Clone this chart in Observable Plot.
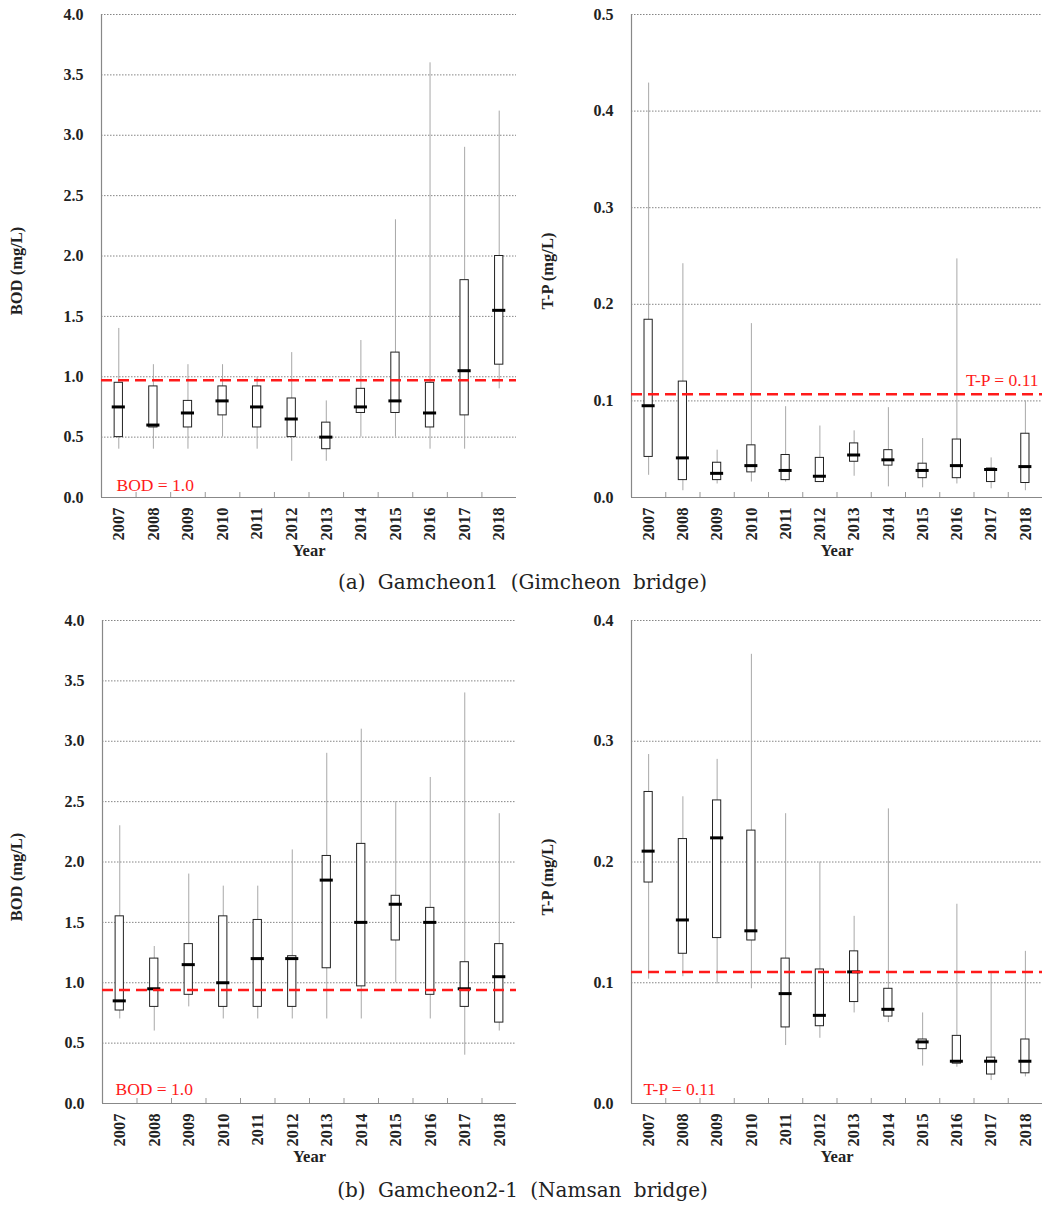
<!DOCTYPE html>
<html><head><meta charset="utf-8">
<script src="https://cdn.jsdelivr.net/npm/d3@7"></script>
<script src="https://cdn.jsdelivr.net/npm/@observablehq/plot@0.6"></script>
<style>
body{margin:0;background:#fff;}
#wrap{position:relative;width:1045px;height:1205px;overflow:hidden;background:#fff;}
.panel{position:absolute;}
.panel svg{font-family:"Liberation Serif","Times New Roman",serif !important;}
.cap{position:absolute;left:0;width:1045px;text-align:center;font-family:"DejaVu Serif";font-size:20px;line-height:24px;color:#222;word-spacing:6px;}
</style></head><body>
<div id="wrap">
<div class="panel" id="p1" style="left:0;top:0;width:520px"></div>
<div class="panel" id="p2" style="left:520px;top:0;width:525px"></div>
<div class="panel" id="p3" style="left:0;top:600px;width:520px"></div>
<div class="panel" id="p4" style="left:520px;top:600px;width:525px"></div>
<div class="cap" style="top:570px">(a) Gamcheon1 (Gimcheon bridge)</div>
<div class="cap" style="top:1178px">(b) Gamcheon2-1 (Namsan bridge)</div>
</div>
<script>
const years = [2007,2008,2009,2010,2011,2012,2013,2014,2015,2016,2017,2018];

// (a) Gamcheon1 - BOD
const bodA_min = [0.40,0.40,0.40,0.50,0.40,0.30,0.30,0.50,0.50,0.40,0.40,0.90];
const bodA_q1  = [0.50,0.58,0.58,0.68,0.58,0.50,0.40,0.70,0.70,0.58,0.68,1.10];
const bodA_med = [0.75,0.60,0.70,0.80,0.75,0.65,0.50,0.75,0.80,0.70,1.05,1.55];
const bodA_q3  = [0.95,0.92,0.80,0.92,0.92,0.82,0.62,0.90,1.20,0.95,1.80,2.00];
const bodA_max = [1.40,1.10,1.10,1.10,1.00,1.20,0.80,1.30,2.30,3.60,2.90,3.20];
// (a) Gamcheon1 - T-P
const tpA_min = [0.023,0.007,0.014,0.016,0.016,0.016,0.022,0.011,0.010,0.014,0.009,0.007];
const tpA_q1  = [0.042,0.018,0.018,0.026,0.018,0.016,0.037,0.033,0.020,0.020,0.016,0.015];
const tpA_med = [0.095,0.041,0.025,0.033,0.028,0.022,0.044,0.039,0.028,0.033,0.029,0.032];
const tpA_q3  = [0.184,0.120,0.036,0.054,0.044,0.041,0.056,0.049,0.035,0.060,0.030,0.066];
const tpA_max = [0.429,0.242,0.049,0.180,0.094,0.074,0.069,0.093,0.061,0.247,0.041,0.100];
// (b) Gamcheon2-1 - BOD
const bodB_min = [0.70,0.60,0.80,0.70,0.70,0.70,0.70,0.70,1.00,0.70,0.40,0.60];
const bodB_q1  = [0.77,0.80,0.90,0.80,0.80,0.80,1.12,0.97,1.35,0.90,0.80,0.67];
const bodB_med = [0.85,0.95,1.15,1.00,1.20,1.20,1.85,1.50,1.65,1.50,0.95,1.05];
const bodB_q3  = [1.55,1.20,1.32,1.55,1.52,1.22,2.05,2.15,1.72,1.62,1.17,1.32];
const bodB_max = [2.30,1.30,1.90,1.80,1.80,2.10,2.90,3.10,2.50,2.70,3.40,2.40];
// (b) Gamcheon2-1 - T-P
const tpB_min = [0.103,0.105,0.099,0.095,0.048,0.054,0.075,0.067,0.031,0.030,0.019,0.022];
const tpB_q1  = [0.183,0.124,0.137,0.135,0.063,0.064,0.084,0.072,0.045,0.033,0.024,0.025];
const tpB_med = [0.209,0.152,0.220,0.143,0.091,0.073,0.109,0.078,0.051,0.035,0.035,0.035];
const tpB_q3  = [0.258,0.219,0.251,0.226,0.120,0.111,0.126,0.095,0.053,0.056,0.038,0.053];
const tpB_max = [0.289,0.254,0.285,0.372,0.240,0.200,0.155,0.244,0.075,0.165,0.108,0.126];

// standard lines (as drawn) and labels
const stdA_bod = 0.97, stdA_tp = 0.107, stdB_bod = 0.94, stdB_tp = 0.109;
const bodLabel = "BOD = 1.0", tpLabel = "T-P = 0.11";
const bodTicks = [0,0.5,1,1.5,2,2.5,3,3.5,4];
const tpATicks = [0,0.1,0.2,0.3,0.4,0.5];
const tpBTicks = [0,0.1,0.2,0.3,0.4];

const SERIF = '"Liberation Serif","Times New Roman",serif';

function panel(o) {
  const rows = years.map((y,i)=>({year:y, min:o.min[i], q1:o.q1[i], med:o.med[i], q3:o.q3[i], max:o.max[i]}));
  const plotH = o.height - o.mt - o.mb;
  const x0 = years[0]-0.5, x1 = years[years.length-1]+0.5;
  const bounds = years.slice(0,-1).map(y=>y+0.5);
  const yMax = o.ticks[o.ticks.length-1];
  const stdText = o.labelMode === "right"
    ? Plot.text([o.std], {y:d=>d, frameAnchor:"right", textAnchor:"end", lineAnchor:"middle", dx:-4, dy:-14, text:()=>o.stdLabel, fill:"#ff1a1a", fontSize:17.5, fontFamily:SERIF})
    : Plot.text([o.stdLabel], {frameAnchor:"bottom-left", textAnchor:"start", lineAnchor:"bottom", dx:o.ldx, dy:o.ldy, fill:"#ff1a1a", fontSize:17.5, fontFamily:SERIF});
  return Plot.plot({
    width:o.width, height:o.height, marginTop:o.mt, marginBottom:o.mb, marginLeft:o.ml, marginRight:o.mr,
    style:{fontFamily:SERIF, fontSize:"15px", color:"#222", background:"white"},
    x:{type:"linear", domain:[x0,x1]},
    y:{domain:[0,yMax]},
    marks:[
      Plot.gridY(o.ticks, {stroke:"#666", strokeOpacity:1, strokeDasharray:"1.5,1.5", strokeWidth:0.8}),
      Plot.axisY(o.ticks, {tickSize:0, tickPadding:18, tickFormat:d3.format(".1f"), fontWeight:"bold", fontSize:16, fontFamily:SERIF, label:null}),
      Plot.axisX(years, {tickSize:0, tickPadding:10, tickRotate:-90, tickFormat:d=>String(d), fontWeight:"bold", fontSize:16.5, fontFamily:SERIF, label:null}),
      Plot.tickX(bounds, {x:d=>d, insetTop:plotH-5, stroke:"#999"}),
      Plot.ruleX([x0], {stroke:"#888", strokeWidth:1.2}),
      Plot.ruleY([0], {stroke:"#888", strokeWidth:1.2}),
      Plot.ruleX(rows, {x:"year", y1:"min", y2:"max", stroke:"#a8a8a8", strokeWidth:1}),
      Plot.rect(rows, {x1:d=>d.year-0.12, x2:d=>d.year+0.12, y1:"q1", y2:"q3", fill:"white", stroke:"#222", strokeWidth:1}),
      Plot.ruleY(rows, {y:"med", x1:d=>d.year-0.19, x2:d=>d.year+0.19, stroke:"black", strokeWidth:3}),
      Plot.ruleY([o.std], {stroke:"#ff1a1a", strokeWidth:2.5, strokeDasharray:"11,6"}),
      stdText,
      Plot.text([o.yLabel], {frameAnchor:"left", textAnchor:"middle", lineAnchor:"middle", rotate:-90, dx:-(o.ml-o.ylx), dy:15, fontWeight:"bold", fontSize:16.5, fontFamily:SERIF}),
      Plot.text(["Year"], {frameAnchor:"bottom", textAnchor:"middle", lineAnchor:"middle", dy:53, fontWeight:"bold", fontSize:16.5, fontFamily:SERIF})
    ]
  });
}

document.getElementById("p1").append(panel({min:bodA_min,q1:bodA_q1,med:bodA_med,q3:bodA_q3,max:bodA_max,
  ticks:bodTicks, yLabel:"BOD (mg/L)", std:stdA_bod, stdLabel:bodLabel, labelMode:"bottom", ldx:15, ldy:-7,
  width:520, height:568, mt:14, mb:71, ml:101, mr:4, ylx:16}));
document.getElementById("p2").append(panel({min:tpA_min,q1:tpA_q1,med:tpA_med,q3:tpA_q3,max:tpA_max,
  ticks:tpATicks, yLabel:"T-P (mg/L)", std:stdA_tp, stdLabel:tpLabel, labelMode:"right",
  width:525, height:568, mt:14, mb:71, ml:111, mr:3, ylx:27}));
document.getElementById("p3").append(panel({min:bodB_min,q1:bodB_q1,med:bodB_med,q3:bodB_q3,max:bodB_max,
  ticks:bodTicks, yLabel:"BOD (mg/L)", std:stdB_bod, stdLabel:bodLabel, labelMode:"bottom", ldx:13, ldy:-9,
  width:520, height:575, mt:20, mb:72, ml:102, mr:4, ylx:16}));
document.getElementById("p4").append(panel({min:tpB_min,q1:tpB_q1,med:tpB_med,q3:tpB_q3,max:tpB_max,
  ticks:tpBTicks, yLabel:"T-P (mg/L)", std:stdB_tp, stdLabel:tpLabel, labelMode:"bottom", ldx:12, ldy:-9,
  width:525, height:575, mt:20, mb:72, ml:111, mr:3, ylx:27}));
</script>
</body></html>
